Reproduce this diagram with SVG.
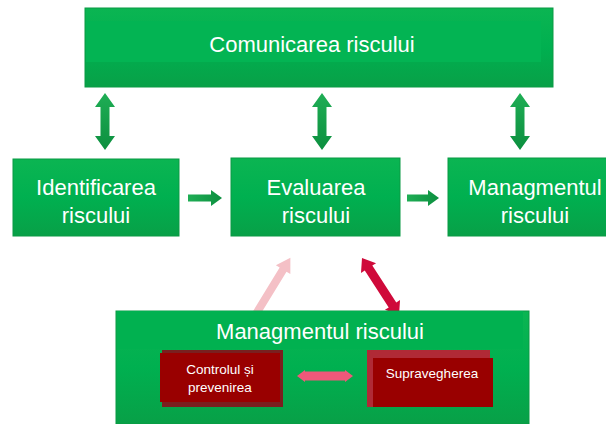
<svg xmlns="http://www.w3.org/2000/svg" width="606" height="424" viewBox="0 0 606 424">
  <defs>
    <linearGradient id="gBox" x1="0" y1="0" x2="0" y2="1">
      <stop offset="0" stop-color="#0bb552"/>
      <stop offset="0.5" stop-color="#00b050"/>
      <stop offset="1" stop-color="#08a047"/>
    </linearGradient>
    <linearGradient id="gArrow" x1="0" y1="0" x2="1" y2="0">
      <stop offset="0" stop-color="#1fae55"/>
      <stop offset="1" stop-color="#0c8f3f"/>
    </linearGradient>
    <style>
      .box { fill: url(#gBox); stroke: #0a9a45; stroke-width: 1; }
      .t { font-family: "Liberation Sans", Arial, sans-serif; fill: #ffffff; text-anchor: middle; }
      .big { font-size: 22px; }
      .small { font-size: 13.5px; }
      .red { fill: #990000; }
      .redshadow { fill: #7a1f1f; }
      .garrow { fill: url(#gArrow); }
    </style>
  </defs>

  <rect width="606" height="424" fill="#ffffff"/>

  <g id="connectors">
    <polygon class="garrow" transform="translate(105,93) rotate(90)" points="0,0 14,-10 14,-4.5 43,-4.5 43,-10 57,0 43,10 43,4.5 14,4.5 14,10"/>
    <polygon class="garrow" transform="translate(322,93) rotate(90)" points="0,0 14,-10 14,-4.5 43,-4.5 43,-10 57,0 43,10 43,4.5 14,4.5 14,10"/>
    <polygon class="garrow" transform="translate(520,93) rotate(90)" points="0,0 14,-10 14,-4.5 43,-4.5 43,-10 57,0 43,10 43,4.5 14,4.5 14,10"/>
    <polygon class="garrow" transform="translate(188,198)" points="0,-3.5 23,-3.5 23,-8 34,0 23,8 23,3.5 0,3.5"/>
    <polygon class="garrow" transform="translate(407,198)" points="0,-3.5 21,-3.5 21,-8 32,0 21,8 21,3.5 0,3.5"/>
    <polygon fill="#f4c0c6" transform="translate(256,314) rotate(-58.6)" points="0,-4 52,-4 52,-8.5 66,0 52,8.5 52,4 0,4"/>
    <polygon fill="#cf0a3a" transform="translate(362,258) rotate(57)" points="0,0 12,-9 12,-4.5 56,-4.5 56,-9 68,0 56,9 56,4.5 12,4.5 12,9"/>
  </g>

  <g id="comunicarea">
    <rect class="box" x="85" y="8" width="468" height="79"/>
    <rect x="86" y="21" width="455" height="41" fill="#03b453"/>
    <text class="t big" x="312" y="52">Comunicarea riscului</text>
  </g>

  <g id="identificarea">
    <rect class="box" x="13" y="159" width="166" height="77"/>
    <text class="t big" x="96" y="195">Identificarea</text>
    <text class="t big" x="96" y="223">riscului</text>
  </g>

  <g id="evaluarea">
    <rect class="box" x="231" y="158" width="169" height="78"/>
    <text class="t big" x="316" y="195">Evaluarea</text>
    <text class="t big" x="316" y="223">riscului</text>
  </g>

  <g id="managmentul-sus">
    <rect class="box" x="448" y="158" width="160" height="78"/>
    <text class="t big" x="535" y="195">Managmentul</text>
    <text class="t big" x="535" y="223">riscului</text>
  </g>

  <g id="managmentul-jos">
    <rect class="box" x="116" y="311" width="413" height="113"/>
    <rect x="117" y="311" width="406" height="38" fill="#01b150"/>
    <text class="t big" x="320" y="339">Managmentul riscului</text>
  </g>

  <g id="controlul">
    <rect class="redshadow" x="162" y="350" width="121" height="57"/>
    <rect class="red" x="160" y="353" width="120" height="49"/>
    <text class="t small" x="220" y="374">Controlul și</text>
    <text class="t small" x="220" y="392">prevenirea</text>
  </g>

  <g id="supravegherea">
    <rect fill="#b02a36" x="367" y="350" width="123" height="57"/>
    <rect class="red" x="373" y="358" width="120" height="49"/>
    <text class="t small" x="432" y="378">Supravegherea</text>
  </g>

  <g id="connector-jos">
    <polygon fill="#f0587a" transform="translate(297,376)" points="0,0 8,-6 8,-4.5 48,-4.5 48,-6 56,0 48,6 48,4.5 8,4.5 8,6"/>
  </g>
</svg>
